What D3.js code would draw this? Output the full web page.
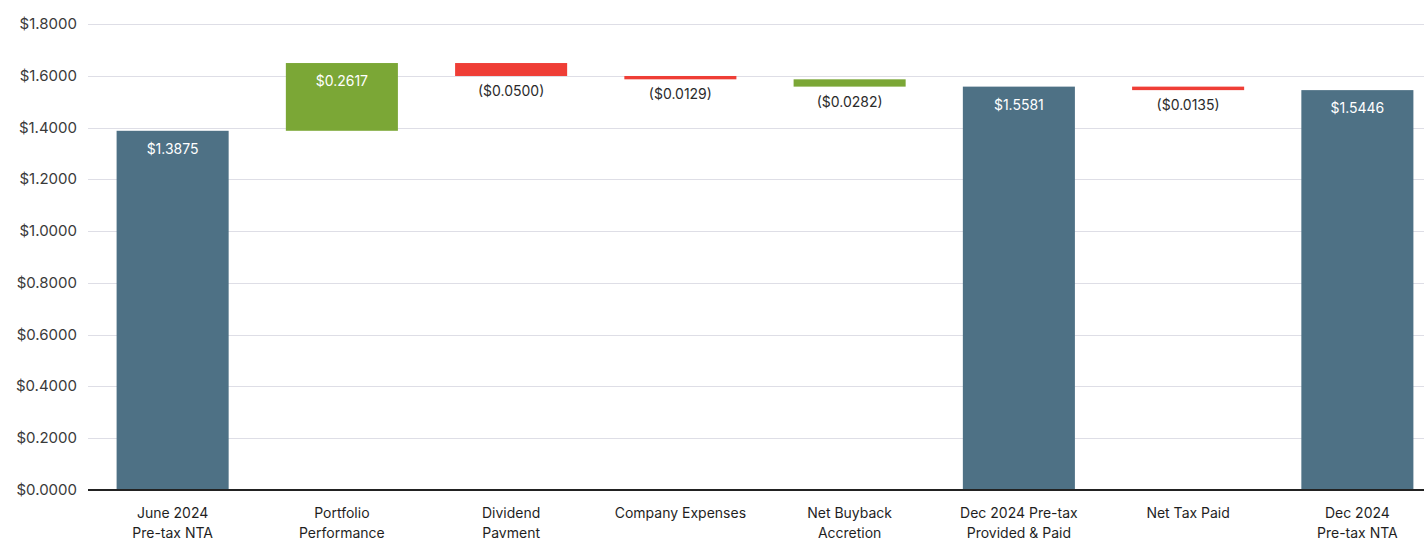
<!DOCTYPE html>
<html lang="en">
  <head>
    <meta charset="utf-8">
    <title>NTA Waterfall</title>
    <script type="text/javascript" src="https://d3js.org/d3.v7.min.js"></script>
    <style type="text/css">
      body{
        margin: 0;
        background: #ffffff;
      }
      svg{
        display: block;
        font-family: Inter, "Noto Sans", sans-serif;
      }
    </style>
  </head>
  <body>
    <div id="placeHere"></div>

    <script type="text/javascript">
      //width and height
      var w = 1424;
      var h = 538;

      //data
      var categories = [
        ["June 2024", "Pre-tax NTA"],
        ["Portfolio", "Performance"],
        ["Dividend", "Payment"],
        ["Company Expenses"],
        ["Net Buyback", "Accretion"],
        ["Dec 2024 Pre-tax", "Provided & Paid"],
        ["Net Tax Paid"],
        ["Dec 2024", "Pre-tax NTA"]
      ];
      var values = [1.3875, 0.2617, -0.0500, -0.0129, -0.0282, 1.5581, -0.0135, 1.5446];
      var kinds = ["total", "gain", "loss", "loss", "gain", "total", "loss", "total"];
      var yTicks = [0, 0.2, 0.4, 0.6, 0.8, 1.0, 1.2, 1.4, 1.6, 1.8];

      var colors = { total: "#4e7185", gain: "#7ba736", loss: "#ef3e36" };

      //running totals for the waterfall
      var running = 0;
      var steps = values.map(function(v, i){
        var s, e;
        if (kinds[i] === "total") {
          s = 0; e = v; running = v;
        } else {
          s = running; e = running + v; running = e;
        }
        return { i: i, v: v, kind: kinds[i], lo: Math.min(s, e), hi: Math.max(s, e) };
      });

      var plotLeft = 88, plotBottom = 490, plotTop = 24;

      //scales
      var xScale = d3.scaleBand()
                    .domain(d3.range(categories.length))
                    .range([plotLeft, 1442])
                    .paddingInner(0.338)
                    .paddingOuter(0.169);

      var yScale = d3.scaleLinear()
                     .domain([0, 1.8])
                     .range([plotBottom, plotTop]);

      //SVG element
      var svg = d3.select("#placeHere")
                  .append("svg")
                  .attr("width", w)
                  .attr("height", h);

      //grid lines
      svg.append("g")
         .selectAll("line")
         .data(yTicks)
         .enter()
         .append("line")
         .attr("x1", plotLeft)
         .attr("x2", w)
         .attr("y1", function(d){ return Math.round(yScale(d)) + 0.5; })
         .attr("y2", function(d){ return Math.round(yScale(d)) + 0.5; })
         .attr("stroke", "#dedee6")
         .attr("stroke-width", 1);

      //y tick labels
      svg.append("g")
         .selectAll("text")
         .data(yTicks)
         .enter()
         .append("text")
         .text(function(d){ return "$" + d.toFixed(4); })
         .attr("x", 77)
         .attr("y", function(d){ return yScale(d) + 5; })
         .attr("text-anchor", "end")
         .attr("font-size", "15px")
         .attr("fill", "#3a3a3a");

      //bars
      svg.selectAll("rect.bar")
         .data(steps)
         .enter()
         .append("rect")
         .attr("class", "bar")
         .attr("x", function(d){ return xScale(d.i); })
         .attr("y", function(d){ return yScale(d.hi); })
         .attr("width", xScale.bandwidth())
         .attr("height", function(d){ return yScale(d.lo) - yScale(d.hi); })
         .attr("fill", function(d){ return colors[d.kind]; });

      //axis line
      svg.append("line")
         .attr("x1", plotLeft)
         .attr("x2", w)
         .attr("y1", plotBottom)
         .attr("y2", plotBottom)
         .attr("stroke", "#222222")
         .attr("stroke-width", 2);

      //value labels
      var fmt = d3.format(".4f");
      svg.selectAll("text.val")
         .data(steps)
         .enter()
         .append("text")
         .attr("class", "val")
         .text(function(d){
           return d.v < 0 ? "($" + fmt(-d.v) + ")" : "$" + fmt(d.v);
         })
         .attr("text-anchor", "middle")
         .attr("x", function(d){ return xScale(d.i) + xScale.bandwidth() / 2; })
         .attr("y", function(d){
           return d.v < 0 ? yScale(d.lo) + 20 : yScale(d.hi) + 23;
         })
         .attr("font-size", "14px")
         .attr("fill", function(d){ return d.v < 0 ? "#2b2b2b" : "#ffffff"; });

      //category labels
      var cats = svg.selectAll("text.cat")
         .data(categories)
         .enter()
         .append("text")
         .attr("class", "cat")
         .attr("text-anchor", "middle")
         .attr("font-size", "14px")
         .attr("fill", "#1f1f1f")
         .attr("x", function(d, i){ return xScale(i) + xScale.bandwidth() / 2; })
         .attr("y", 518);

      cats.selectAll("tspan")
          .data(function(d){ return d; })
          .enter()
          .append("tspan")
          .attr("x", function(){ return this.parentNode.getAttribute("x"); })
          .attr("dy", function(d, j){ return j === 0 ? 0 : 19.5; })
          .text(function(d){ return d; });
    </script>
  </body>
</html>
